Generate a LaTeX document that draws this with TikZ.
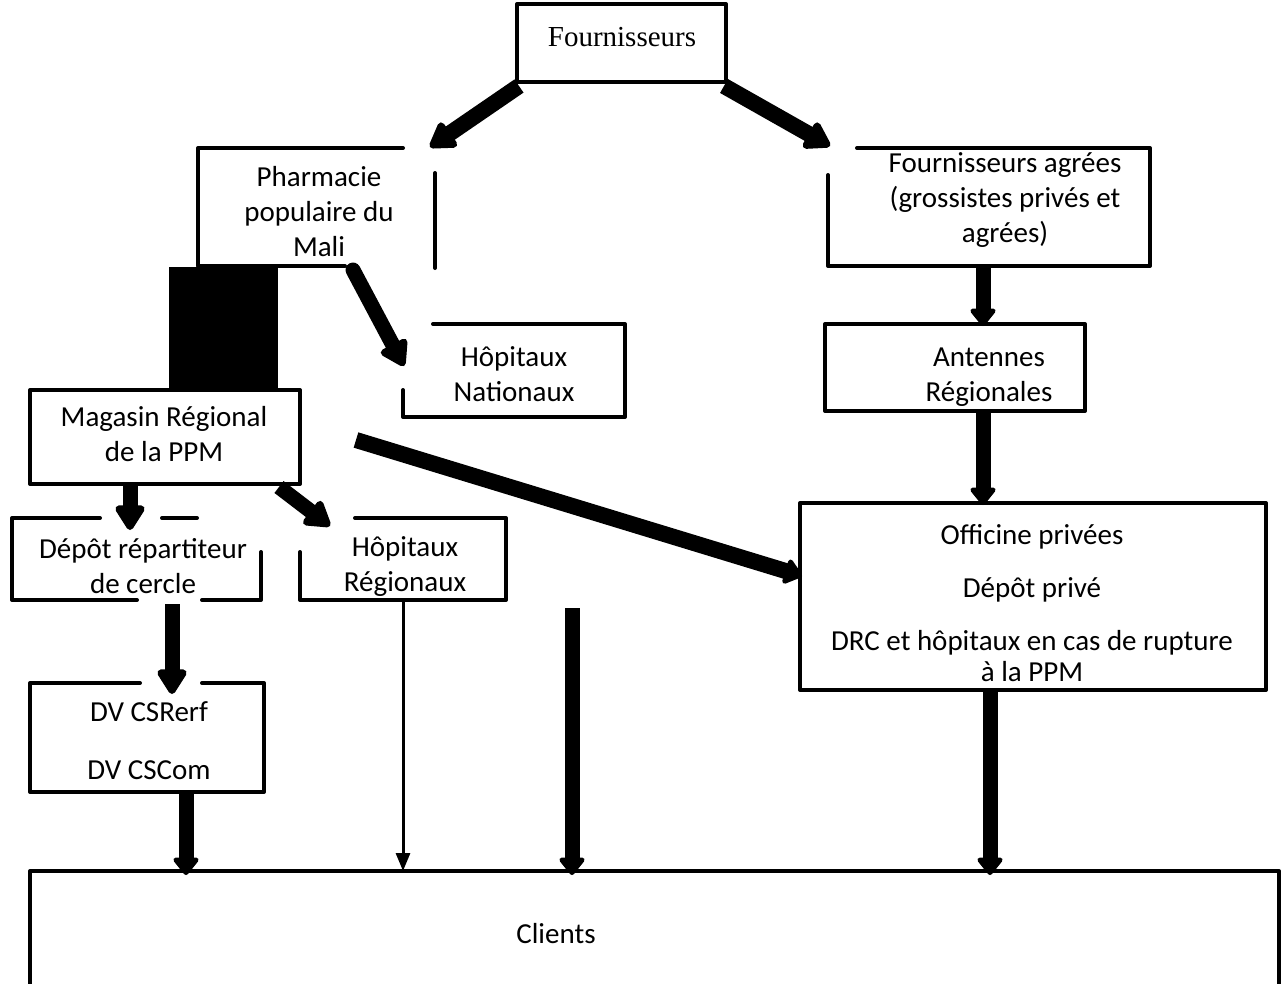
\documentclass[tikz,border=0pt]{standalone}
\usepackage{fontspec}
\setmainfont{Carlito}
\newfontfamily\timesfont{Liberation Serif}
\usetikzlibrary{arrows.meta}
\begin{document}
\begin{tikzpicture}[x=1pt,y=-1pt,
  bx/.style={line width=4pt, line join=round, line cap=round},
  lbl/.style={align=center, inner sep=0pt, font=\fontsize{29}{35}\selectfont},
  blob/.style={line width=15pt, -{Triangle[round,length=19pt,width=29pt,line width=15pt]}},
  bigblob/.style={line width=15pt, -{Triangle[round,length=28pt,width=33pt,line width=12pt]}},
  thinarrow/.style={line width=3pt, -{Triangle[length=18pt,width=14pt]}}]
\useasboundingbox (0,0) rectangle (1282,983);
\fill[white] (0,0) rectangle (1282,983);

% ---- box outlines ----
\draw[bx] (517,4) rectangle (726,82);                                  % Fournisseurs
\draw[bx] (403,148) -- (198,148) -- (198,266) -- (345,266);            % Pharmacie
\draw[bx] (435,173) -- (435,268);
\draw[bx] (433,324) -- (625,324) -- (625,417) -- (403,417) -- (403,390); % Hopitaux nationaux
\draw[bx] (857,148) -- (1150,148) -- (1150,266) -- (828,266) -- (828,175); % agreees
\draw[bx] (825,324) rectangle (1085,411);                               % Antennes
\draw[bx] (30,390) rectangle (300,484);                                 % Magasin
\fill (169,267) rectangle (278,390);                                    % black block
\draw[bx] (100,518) -- (12,518) -- (12,600) -- (137,600);               % Depot
\draw[bx] (162,518) -- (197,518);
\draw[bx] (202,600) -- (261,600) -- (261,552);
\draw[bx] (355,518) -- (506,518) -- (506,600) -- (300,600) -- (300,552); % Hopitaux regionaux
\draw[bx] (800,503) rectangle (1266,690);                               % Officine
\draw[bx] (140,683) -- (30,683) -- (30,792) -- (264,792) -- (264,683) -- (202,683); % DV
\draw[bx] (30,990) -- (30,871) -- (1279,871) -- (1279,990);             % Clients

% ---- labels ----
\node[lbl, font=\timesfont\fontsize{29}{35}\selectfont] (four) at (622,37) {Fournisseurs};
\node[lbl] (pharm) at (319,212) {Pharmacie\\populaire du\\Mali};
\node[lbl] (hnat) at (514,374) {Hôpitaux\\Nationaux};
\node[lbl] (agr) at (1005,200) {Fournisseurs agrées\\(grossistes privés et\\agrées)};
\node[lbl] (ant) at (989,377) {Antennes\\Régionales};
\node[lbl] (mag) at (164,434) {Magasin Régional\\de la PPM};
\node[lbl] (dep) at (143,566) {Dépôt répartiteur\\de cercle};
\node[lbl] (hreg) at (405,567) {Hôpitaux\\Régionaux};
\node[lbl] (off) at (1032,603) {Officine privées\\[18pt]Dépôt privé\\[18pt]DRC et hôpitaux en cas de rupture\\[-4pt]à la PPM};
\node[lbl] (dv) at (149,741) {DV CSRerf\\[23pt]DV CSCom};
\node[lbl] (cli) at (556,934) {Clients};

% ---- connector end points ----
\coordinate (fourL) at (519,86);   \coordinate (pharmIn) at (430,147);
\coordinate (fourR) at (724,86);   \coordinate (agrIn) at (830,146);
\coordinate (pharmOut) at (353,270); \coordinate (hnatIn) at (404,366);
\coordinate (agrOut) at (983,266); \coordinate (antIn) at (983,326);
\coordinate (antOut) at (983,411); \coordinate (offIn) at (983,505);
\coordinate (magA) at (130,486);   \coordinate (depIn) at (130,530);
\coordinate (magB) at (279,487);   \coordinate (hregIn) at (330,526);
\coordinate (magC) at (356,440);   \coordinate (offL) at (802,576);
\coordinate (depOut) at (172,604); \coordinate (dvIn) at (172,694);
\coordinate (dvOut) at (186,792);  \coordinate (cliA) at (186,875);
\coordinate (hregOut) at (403,600); \coordinate (cliB) at (403,871);
\coordinate (free) at (572,608);   \coordinate (cliC) at (572,875);
\coordinate (offOut) at (990,690); \coordinate (cliD) at (990,875);

% ---- connectors ----
\draw[bigblob, line width=16pt] (fourL) -- (pharmIn);
\draw[bigblob, line width=16pt] (fourR) -- (agrIn);
\draw[bigblob, line cap=round] (pharmOut) -- (hnatIn);
\draw[blob] (agrOut) -- (antIn);
\draw[blob] (antOut) -- (offIn);
\draw[bigblob] (magA) -- (depIn);
\draw[bigblob] (magB) -- (hregIn);
\draw[blob, line width=16pt] (magC) -- (offL);
\draw[bigblob] (depOut) -- (dvIn);
\draw[blob] (dvOut) -- (cliA);
\draw[thinarrow] (hregOut) -- (cliB);
\draw[blob] (free) -- (cliC);
\draw[blob] (offOut) -- (cliD);
\end{tikzpicture}
\end{document}
